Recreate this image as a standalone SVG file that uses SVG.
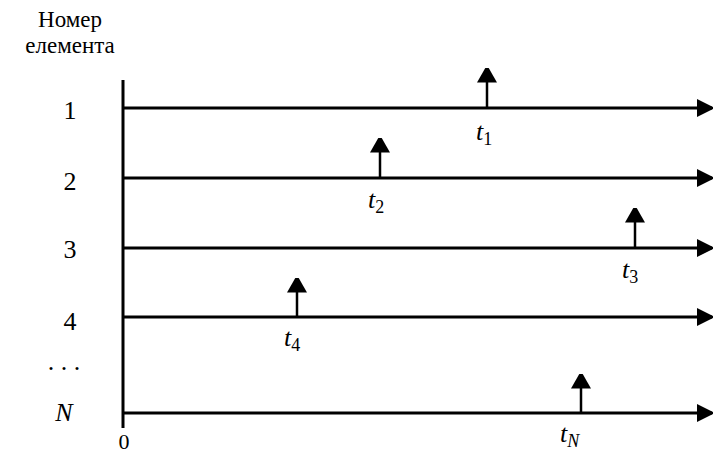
<svg xmlns="http://www.w3.org/2000/svg" width="713" height="455" viewBox="0 0 713 455">
<style>
.ax{stroke:#000;stroke-width:3;fill:none}
.tk{stroke:#000;stroke-width:2.5;fill:none}
text{font-family:"Liberation Serif","DejaVu Serif","Times New Roman",serif;font-size:26px;fill:#000}
.hd{font-size:23px}
.it{font-style:italic}
.sub{font-size:18px;font-style:normal}
.subi{font-size:18px;font-style:italic}
</style>
<defs>
<marker id="ah" markerWidth="6" markerHeight="6" refX="5" refY="3" orient="auto" markerUnits="strokeWidth"><path d="M0,0 L6,3 L0,6 Z" fill="#000"/></marker>
<marker id="up" markerWidth="6" markerHeight="8" refX="5" refY="4" orient="auto" markerUnits="strokeWidth"><path d="M0,0 L7,4 L0,8 Z" fill="#000"/></marker>
</defs>
<g id="header"><text class="hd" x="70" y="27" text-anchor="middle">Номер</text><text class="hd" x="70" y="53" text-anchor="middle">елемента</text></g>
<g id="axis"><line class="ax" x1="123" y1="80" x2="123" y2="428"/><text x="124" y="449" text-anchor="middle" style="font-size:22px">0</text></g>
<g id="connectors">
<line class="ax" x1="123" y1="108" x2="712" y2="108" marker-end="url(#ah)"/>
<line class="ax" x1="123" y1="178" x2="712" y2="178" marker-end="url(#ah)"/>
<line class="ax" x1="123" y1="248" x2="712" y2="248" marker-end="url(#ah)"/>
<line class="ax" x1="123" y1="317" x2="712" y2="317" marker-end="url(#ah)"/>
<line class="ax" x1="123" y1="413" x2="712" y2="413" marker-end="url(#ah)"/>
<line class="tk" x1="487" y1="108" x2="487" y2="70" marker-end="url(#up)"/>
<line class="tk" x1="380" y1="178" x2="380" y2="140" marker-end="url(#up)"/>
<line class="tk" x1="635" y1="248" x2="635" y2="210" marker-end="url(#up)"/>
<line class="tk" x1="297" y1="317" x2="297" y2="280" marker-end="url(#up)"/>
<line class="tk" x1="581" y1="413" x2="581" y2="376" marker-end="url(#up)"/>
</g>
<g id="row1"><text x="70" y="119" text-anchor="middle">1</text><text class="it" x="476" y="140">t<tspan class="sub" dy="5">1</tspan></text></g>
<g id="row2"><text x="70" y="190" text-anchor="middle">2</text><text class="it" x="368" y="208">t<tspan class="sub" dy="5">2</tspan></text></g>
<g id="row3"><text x="70" y="258" text-anchor="middle">3</text><text class="it" x="622" y="278">t<tspan class="sub" dy="5">3</tspan></text></g>
<g id="row4"><text x="70" y="330" text-anchor="middle">4</text><text class="it" x="284" y="346">t<tspan class="sub" dy="5">4</tspan></text></g>
<g id="dots"><text x="64" y="370" text-anchor="middle">. . .</text></g>
<g id="rowN"><text class="it" x="64" y="421" text-anchor="middle">N</text><text class="it" x="560" y="442">t<tspan class="subi" dy="5">N</tspan></text></g>
</svg>
